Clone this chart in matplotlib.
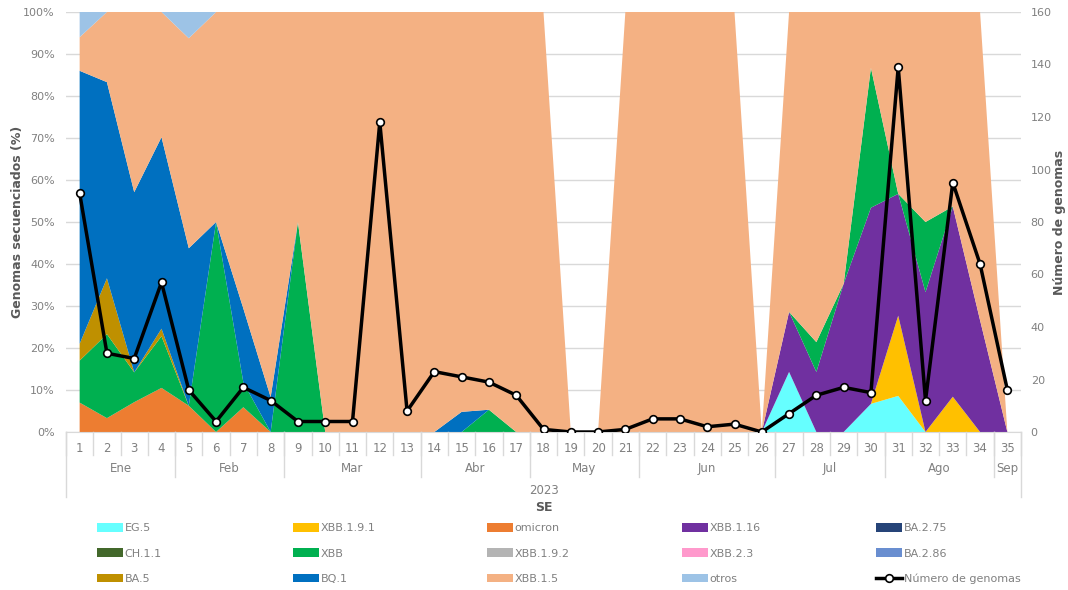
import numpy as np
import matplotlib
matplotlib.use("Agg")
import matplotlib.pyplot as plt
import matplotlib.transforms as mtransforms

plt.rcParams['font.family'] = ['DejaVu Sans']

# semanas epidemiologicas
semanas = list(range(1, 36))
meses = ['Ene', 'Feb', 'Mar', 'Abr', 'May', 'Jun', 'Jul', 'Ago', 'Sep']
semanas_por_mes = [4, 4, 5, 4, 4, 5, 4, 4, 1]

# numero de genomas por semana (eje derecho)
genomas = [91, 30, 28, 57, 16, 4, 17, 12, 4, 4, 4, 118, 8, 23, 21, 19, 14, 1, 0, 0,
           1, 5, 5, 2, 3, 0, 7, 14, 17, 15, 139, 12, 95, 64, 16]

# porcentaje por linaje (eje izquierdo)
eg5 = [0]*26 + [14.3, 0, 0, 6.7, 8.6, 0, 0, 0, 0]
xbb191 = [0]*30 + [19.1, 0, 8.4, 0, 0]
omicron = [7, 3.3, 7.1, 10.5, 6.25, 0, 5.9] + [0]*28
xbb116 = [0]*26 + [14.3, 14.3, 35.3, 46.7, 29.0, 33.3, 45.3, 26.6, 0]
ba275 = [0]*35
ch11 = [0]*35
xbb = [10, 20, 7.1, 12.3, 0, 50, 5.9, 0, 50, 0, 0, 0, 0, 0, 0, 5.3, 0, 0, 0, 0,
       0, 0, 0, 0, 0, 0, 0, 7.1, 0, 33.3, 0, 16.7, 0, 0, 0]
xbb192 = [0]*35
xbb23 = [0]*35
ba286 = [0]*35
ba5 = [4, 13.3, 0, 1.8] + [0]*31
bq1 = [65, 46.7, 42.9, 45.6, 37.5, 0, 17.6, 8.3, 0, 0, 0, 0, 0, 0, 4.8] + [0]*20
xbb15 = [8, 16.7, 42.9, 29.8, 50, 50, 70.6, 91.7, 50, 100, 100, 100, 100, 100, 95.2,
         94.7, 100, 100, 0, 0, 100, 100, 100, 100, 100, 0, 71.4, 78.6, 64.7, 13.3,
         43.3, 50, 46.3, 73.4, 0]
otros = [6, 0, 0, 0, 6.25] + [0]*30

linajes = ['EG.5', 'XBB.1.9.1', 'omicron', 'XBB.1.16', 'BA.2.75', 'CH.1.1', 'XBB',
           'XBB.1.9.2', 'XBB.2.3', 'BA.2.86', 'BA.5', 'BQ.1', 'XBB.1.5', 'otros']
series = [eg5, xbb191, omicron, xbb116, ba275, ch11, xbb, xbb192, xbb23, ba286,
          ba5, bq1, xbb15, otros]
colores = ['#66FFFF', '#FFC000', '#ED7D31', '#7030A0', '#264478', '#43682B', '#00B050',
           '#B4B4B4', '#FF99CC', '#698ED0', '#BF9000', '#0070C0', '#F4B183', '#9DC3E6']

gris = '#808080'
gris_osc = '#595959'
linea = '#D9D9D9'

fig = plt.figure(figsize=(10.68, 5.90), dpi=100)
ax = fig.add_axes([66/1068, 1 - 432/590, (1021 - 66)/1068, 420/590])

polys = ax.stackplot(semanas, *series, colors=colores, labels=linajes, linewidth=0)
ax.set_xlim(0.5, 35.5)
ax.set_ylim(0, 100)
ax.set_yticks(range(0, 101, 10))
ax.set_yticklabels([f'{v}%' for v in range(0, 101, 10)])
ax.yaxis.grid(True, color=linea, lw=1)
ax.set_axisbelow(True)
for s in ['top', 'right', 'left']:
    ax.spines[s].set_visible(False)
ax.spines['bottom'].set_color(linea)
ax.tick_params(axis='y', length=0, pad=8, labelsize=8, labelcolor=gris)
ax.set_xticks(semanas)
ax.set_xticklabels([str(s) for s in semanas])
ax.tick_params(axis='x', length=0, pad=7, labelsize=8.5, labelcolor=gris)
ax.set_ylabel('Genomas secuenciados (%)', fontsize=9, fontweight='bold',
              color=gris_osc, va='center', ha='center')
ax.yaxis.set_label_coords((18 - 66) / 955, 0.5)

# numero de genomas
ax2 = ax.twinx()
ln, = ax2.plot(semanas, genomas, color='black', lw=2.5, marker='o', ms=5.5,
               mfc='white', mec='black', mew=1.2, label='Número de genomas')
ax2.set_ylim(0, 160)
ax2.set_yticks(range(0, 161, 20))
ax2.tick_params(axis='y', length=0, pad=7, labelsize=8, labelcolor=gris)
for s in ax2.spines.values():
    s.set_visible(False)
ax2.set_ylabel('Número de genomas', fontsize=9, fontweight='bold',
               color=gris_osc, va='center', ha='center')
ax2.yaxis.set_label_coords((1059 - 66) / 955, 0.5)

# eje x jerarquico: semana / mes / año
trans = mtransforms.blended_transform_factory(ax.transData, ax.transAxes)
limites = np.cumsum([0] + semanas_por_mes) + 0.5
for b in np.arange(0.5, 36, 1):
    ax.plot([b, b], [0, -0.055], color=linea, lw=1, transform=trans, clip_on=False)
for b in limites[1:-1]:
    ax.plot([b, b], [0, -0.107], color=linea, lw=1, transform=trans, clip_on=False)
for b in [limites[0], limites[-1]]:
    ax.plot([b, b], [0, -0.155], color=linea, lw=1, transform=trans, clip_on=False)
for m, a, b in zip(meses, limites[:-1], limites[1:]):
    ax.text((a + b) / 2, -0.088, m, transform=trans, ha='center', va='center',
            fontsize=8.5, color=gris)
ax.text(18, -0.139, '2023', transform=trans, ha='center', va='center',
        fontsize=8.5, color=gris)
ax.text(18, -0.180, 'SE', transform=trans, ha='center', va='center',
        fontsize=9, fontweight='bold', color=gris_osc)

# leyenda en 5 columnas
handles = list(polys) + [ln]
etiquetas = linajes + ['Número de genomas']
col_x = [97, 293, 487, 682, 876]
for j, x in enumerate(col_x):
    idx = [j, j + 5, j + 10]
    leg = fig.legend([handles[i] for i in idx], [etiquetas[i] for i in idx],
                     loc='upper left', bbox_to_anchor=(x/1068, 1 - 523/590),
                     frameon=False, fontsize=8, labelcolor=gris, borderpad=0,
                     borderaxespad=0, handlelength=2.3, handleheight=0.8,
                     handletextpad=0.2, labelspacing=1.38)

fig.savefig('out.png', dpi=100)
